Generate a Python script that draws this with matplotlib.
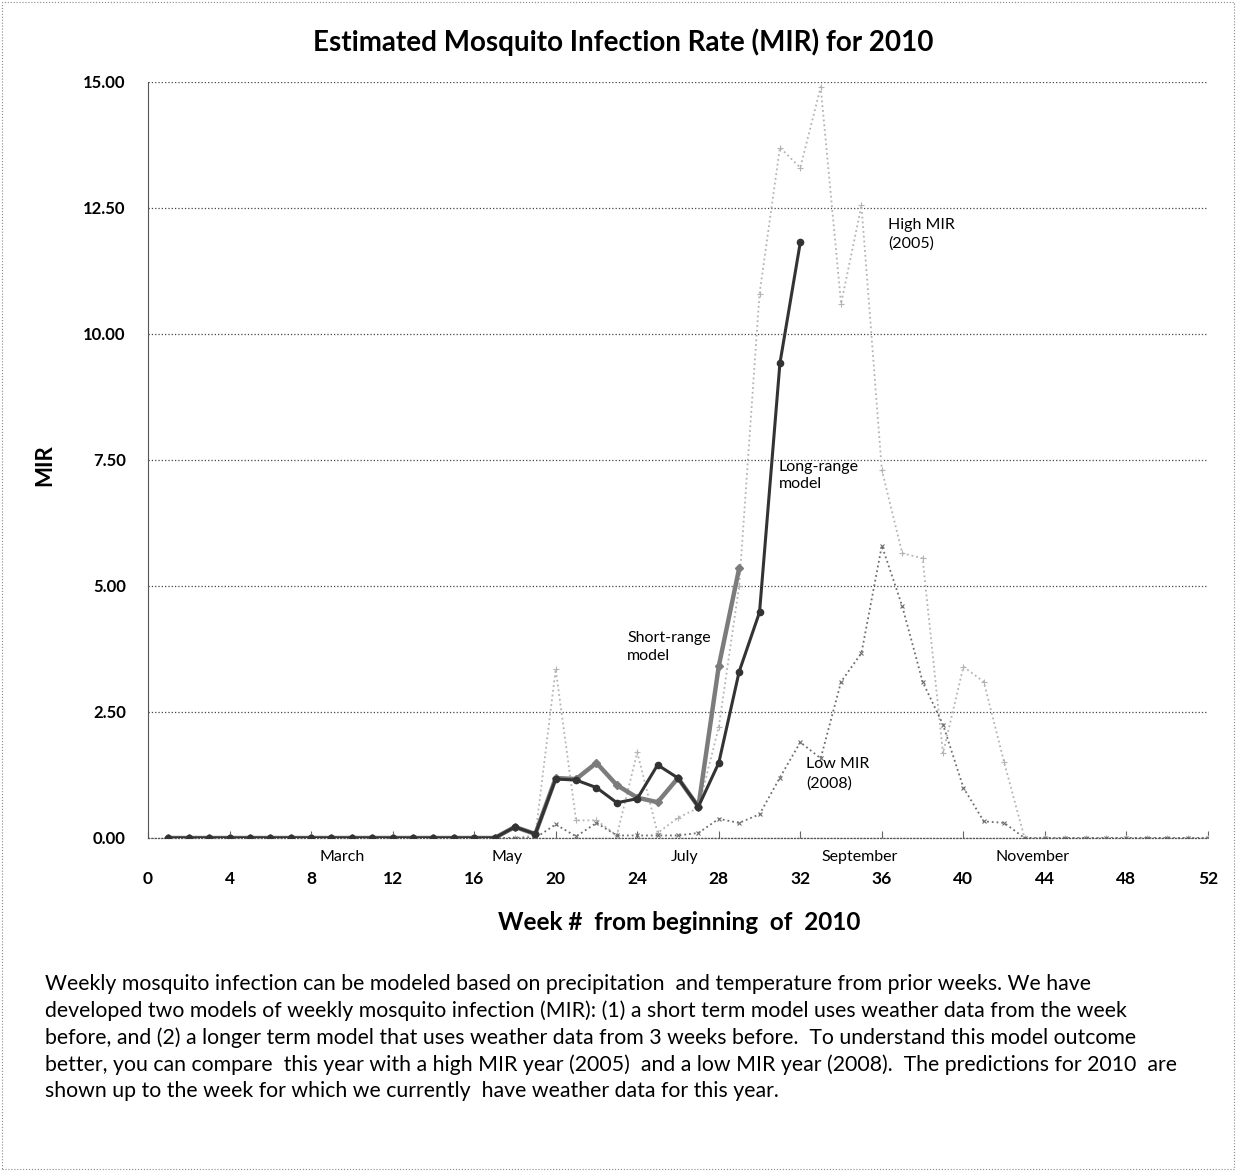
import matplotlib
matplotlib.use('Agg')
import matplotlib.pyplot as plt
from matplotlib.patches import Rectangle

plt.rcParams['font.family'] = ['Lato', 'DejaVu Sans']

# weekly MIR values
weeks_short = list(range(1, 30))
short_range = [0, 0, 0, 0, 0, 0, 0, 0, 0, 0, 0, 0, 0, 0, 0, 0, 0, 0.22, 0.08,
               1.19, 1.17, 1.49, 1.05, 0.80, 0.71, 1.19, 0.62, 3.41, 5.35]

weeks_long = list(range(1, 33))
long_range = [0, 0, 0, 0, 0, 0, 0, 0, 0, 0, 0, 0, 0, 0, 0, 0, 0, 0.22, 0.08,
              1.17, 1.15, 1.00, 0.70, 0.78, 1.45, 1.19, 0.62, 1.49, 3.30, 4.48,
              9.42, 11.82]

weeks_year = list(range(1, 53))
high_2005 = [0, 0, 0, 0, 0, 0, 0, 0, 0, 0, 0, 0, 0, 0, 0, 0, 0, 0, 0.05,
             3.35, 0.35, 0.35, 0.05, 1.70, 0.10, 0.40, 0.60, 2.20, 5.00, 10.80,
             13.70, 13.30, 14.90, 10.60, 12.55, 7.30, 5.65, 5.55, 1.68, 3.40,
             3.10, 1.50, 0, 0, 0, 0, 0, 0, 0, 0, 0, 0]
low_2008 = [0, 0, 0, 0, 0, 0, 0, 0, 0, 0, 0, 0, 0, 0, 0, 0, 0, 0, 0,
            0.27, 0.03, 0.30, 0.05, 0.05, 0.05, 0.05, 0.10, 0.38, 0.30, 0.47,
            1.20, 1.90, 1.58, 3.10, 3.67, 5.80, 4.60, 3.10, 2.25, 1.00,
            0.33, 0.30, 0, 0, 0, 0, 0, 0, 0, 0, 0, 0]

x_ticks = list(range(0, 53, 4))
y_ticks = [0, 2.5, 5, 7.5, 10, 12.5, 15]
months = ['March', 'May', 'July', 'September', 'November']
month_pos = [9.5, 17.6, 26.3, 34.9, 43.4]

caption = ("Weekly mosquito infection can be modeled based on precipitation  and temperature from prior weeks. We have\n"
           "developed two models of weekly mosquito infection (MIR): (1) a short term model uses weather data from the week\n"
           "before, and (2) a longer term model that uses weather data from 3 weeks before.  To understand this model outcome\n"
           "better, you can compare  this year with a high MIR year (2005)  and a low MIR year (2008).  The predictions for 2010  are\n"
           "shown up to the week for which we currently  have weather data for this year.")

W, H = 1236, 1171
fig = plt.figure(figsize=(W / 100, H / 100), dpi=100, facecolor='white')
ax = fig.add_axes([148 / W, 1 - 838 / H, 1060 / W, 756 / H])

ax.plot(weeks_year, high_2005, color='#b4b4b4', ls=':', lw=1.3,
        marker='+', ms=4, mew=0.8, zorder=2)
ax.plot(weeks_year, low_2008, color='#6e6e6e', ls=':', lw=1.3,
        marker='x', ms=3.5, mew=0.8, zorder=2)
ax.plot(weeks_short, short_range, color='#7c7c7c', lw=3.2,
        marker='D', ms=4, zorder=3)
ax.plot(weeks_long, long_range, color='#333333', lw=2.2,
        marker='o', ms=4.5, zorder=4)

ax.set_xlim(0, 52)
ax.set_ylim(0, 15)
ax.set_xticks(x_ticks)
ax.set_yticks(y_ticks)
ax.set_yticklabels(['%.2f' % v for v in y_ticks])
ax.tick_params(axis='x', direction='in', length=5, width=0.8, color='#666666',
               pad=24, labelsize=12.5)
ax.tick_params(axis='y', length=0, pad=16, labelsize=12)
for lab in ax.get_xticklabels() + ax.get_yticklabels():
    lab.set_fontweight('bold')

ax.grid(axis='y', ls=':', color='#444444', lw=0.9)
ax.set_axisbelow(True)
for s in ['top', 'right']:
    ax.spines[s].set_visible(False)
ax.spines['left'].set_color('#555555')
ax.spines['left'].set_linewidth(0.8)
ax.spines['bottom'].set_color('#555555')
ax.spines['bottom'].set_linewidth(0.9)
ax.spines['bottom'].set_linestyle(':')

for name, pos in zip(months, month_pos):
    ax.text(pos, -0.025, name, transform=ax.get_xaxis_transform(),
            ha='center', va='center', fontsize=11.5)

ax.text(36.3, 12.3, 'High MIR\n(2005)', fontsize=11.5, va='top', linespacing=1.4)
ax.text(30.95, 7.5, 'Long-range\nmodel', fontsize=11.5, va='top', linespacing=1.3)
ax.text(23.5, 4.1, 'Short-range\nmodel', fontsize=11.5, va='top', linespacing=1.3)
ax.text(32.3, 1.6, 'Low MIR\n(2008)', fontsize=11.5, va='top', linespacing=1.4)

fig.text(623 / W, 1 - 42 / H, 'Estimated Mosquito Infection Rate (MIR) for 2010',
         ha='center', va='center', fontsize=20, fontweight='bold')
fig.text(679 / W, 1 - 923 / H, 'Week #  from beginning  of  2010',
         ha='center', va='center', fontsize=17.5, fontweight='bold')
fig.text(45 / W, 1 - 465 / H, 'MIR', rotation=90,
         ha='center', va='center', fontsize=16, fontweight='bold')
fig.text(45 / W, 1 - 974 / H, caption, ha='left', va='top',
         fontsize=15.3, linespacing=1.38)

fig.patches.append(Rectangle((0.002, 0.002), 0.996, 0.996, transform=fig.transFigure,
                             fill=False, ec='#888888', lw=0.8, ls=':'))

fig.savefig('out.png', dpi=100)
